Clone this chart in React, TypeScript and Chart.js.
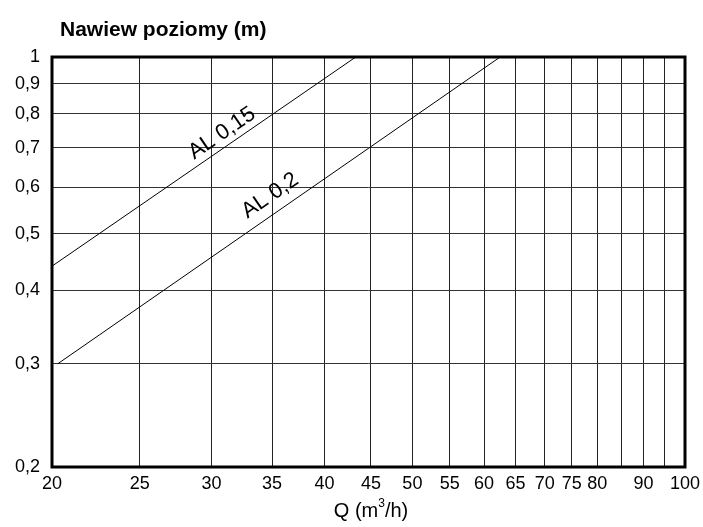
import React, { useEffect, useRef } from 'react';
import { Chart, registerables } from 'chart.js';
Chart.register(...registerables);

const xGridValues = [20, 25, 30, 35, 40, 45, 50, 55, 60, 65, 70, 75, 80, 85, 90, 95, 100];
const xLabeledValues = [20, 25, 30, 35, 40, 45, 50, 55, 60, 65, 70, 75, 80, 90, 100];
const yTickValues = [0.2, 0.3, 0.4, 0.5, 0.6, 0.7, 0.8, 0.9, 1];

const al015Q = [20, 43.3];
const al015R = [0.44, 1];
const al02Q = [20.3, 62.5];
const al02R = [0.3, 1];

const seriesNames = ['AL 0,15', 'AL 0,2'];
const labelAtQ = [31.4, 35.7];

const chartTitle = 'Nawiew poziomy (m)';
const FONT = "'Liberation Sans', Arial, sans-serif";

export default function App() {
  const ref = useRef<HTMLCanvasElement | null>(null);
  useEffect(() => {
    if (!ref.current) return;
    const lines = [
      { q: al015Q, r: al015R },
      { q: al02Q, r: al02R },
    ];
    const textPlugin = {
      id: 'texts',
      afterDraw(chart: any) {
        const ctx = chart.ctx;
        const xs = chart.scales.x;
        const ys = chart.scales.y;
        const a = chart.chartArea;
        ctx.save();
        ctx.strokeStyle = '#000';
        ctx.lineWidth = 3;
        ctx.strokeRect(a.left, a.top, a.right - a.left, a.bottom - a.top);
        ctx.fillStyle = '#000';
        ctx.font = `22px ${FONT}`;
        ctx.textAlign = 'center';
        ctx.textBaseline = 'bottom';
        lines.forEach((l, i) => {
          const x1 = xs.getPixelForValue(l.q[0]);
          const y1 = ys.getPixelForValue(l.r[0]);
          const x2 = xs.getPixelForValue(l.q[1]);
          const y2 = ys.getPixelForValue(l.r[1]);
          const px = xs.getPixelForValue(labelAtQ[i]);
          const t = (px - x1) / (x2 - x1);
          const py = y1 + t * (y2 - y1);
          const ang = Math.atan2(y2 - y1, x2 - x1);
          ctx.save();
          ctx.translate(px, py);
          ctx.rotate(ang);
          ctx.fillText(seriesNames[i], 0, i === 0 ? -2 : -6);
          ctx.restore();
        });
        ctx.textAlign = 'left';
        ctx.textBaseline = 'middle';
        ctx.font = `bold 21px ${FONT}`;
        ctx.fillText(chartTitle, 60, 30);
        const p1 = 'Q (m';
        const p2 = '3';
        const p3 = '/h)';
        ctx.font = `20px ${FONT}`;
        const w1 = ctx.measureText(p1).width;
        const w3 = ctx.measureText(p3).width;
        ctx.font = `12px ${FONT}`;
        const w2 = ctx.measureText(p2).width;
        const total = w1 + w2 + w3;
        let sx = 371 - total / 2;
        const cy = 511;
        ctx.font = `20px ${FONT}`;
        ctx.fillText(p1, sx, cy);
        sx += w1;
        ctx.font = `12px ${FONT}`;
        ctx.fillText(p2, sx, cy - 7);
        sx += w2;
        ctx.font = `20px ${FONT}`;
        ctx.fillText(p3, sx, cy);
        ctx.restore();
      },
    };
    const chart = new Chart(ref.current, {
      type: 'line',
      data: {
        datasets: lines.map((l, i) => ({
          label: seriesNames[i],
          data: l.q.map((q, j) => ({ x: q, y: l.r[j] })),
          borderColor: '#000',
          borderWidth: 1,
          pointRadius: 0,
          fill: false,
        })),
      },
      options: {
        responsive: false,
        animation: false,
        layout: { padding: { top: 57, right: 18, left: 0, bottom: 0 } },
        plugins: { legend: { display: false }, tooltip: { enabled: false }, title: { display: false } },
        scales: {
          x: {
            type: 'logarithmic',
            min: 20,
            max: 100,
            afterBuildTicks: (s: any) => {
              s.ticks = xGridValues.map((v) => ({ value: v }));
            },
            afterFit: (s: any) => {
              s.height = 60;
              s.paddingLeft = 0;
              s.paddingRight = 0;
            },
            grid: { color: '#222', lineWidth: 1, drawTicks: false },
            border: { display: false },
            ticks: {
              autoSkip: false,
              maxRotation: 0,
              padding: 6,
              color: '#000',
              font: { family: FONT, size: 18 },
              callback: (v: any) => (xLabeledValues.includes(Number(v)) ? String(v) : ''),
            },
          },
          y: {
            type: 'logarithmic',
            min: 0.2,
            max: 1,
            afterBuildTicks: (s: any) => {
              s.ticks = yTickValues.map((v) => ({ value: v }));
            },
            afterFit: (s: any) => {
              s.width = 52;
              s.paddingTop = 0;
              s.paddingBottom = 0;
            },
            grid: { color: '#333', lineWidth: 1, drawTicks: false },
            border: { display: false },
            ticks: {
              autoSkip: false,
              padding: 12,
              color: '#000',
              font: { family: FONT, size: 18 },
              callback: (v: any) => {
                const n = Number(v);
                return n >= 1 ? '1' : n.toFixed(1).replace('.', ',');
              },
            },
          },
        },
      },
      plugins: [textPlugin],
    } as any);
    return () => chart.destroy();
  }, []);
  return (
    <div style={{ position: 'fixed', left: 0, top: 0, width: 703, height: 527, background: '#fff' }}>
      <canvas ref={ref} width={703} height={527} />
    </div>
  );
}
